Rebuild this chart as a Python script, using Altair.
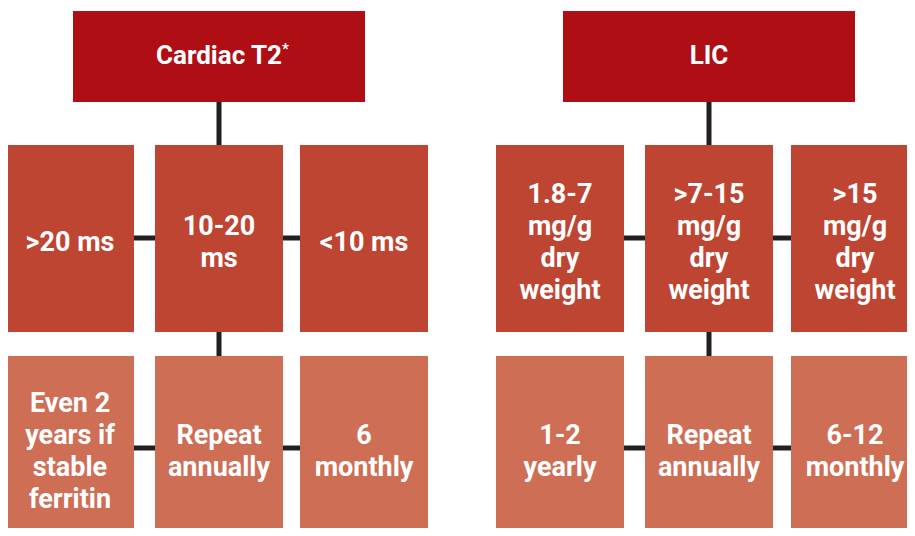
import altair as alt
import pandas as pd

# ---------------- data ----------------
groups = ["Cardiac T2", "LIC"]
group_marks = ["*", ""]
thresholds = [
    [">20 ms", "10-20\nms", "<10 ms"],
    ["1.8-7\nmg/g\ndry\nweight", ">7-15\nmg/g\ndry\nweight", ">15\nmg/g\ndry\nweight"],
]
intervals = [
    ["Even 2\nyears if\nstable\nferritin", "Repeat\nannually", "6\nmonthly"],
    ["1-2\nyearly", "Repeat\nannually", "6-12\nmonthly"],
]
tiers = ["head", "threshold", "interval"]
tier_colors = ["#B00E15", "#BE4531", "#CE6E55"]

# ---------------- layout (grid of the figure) ----------------
col_left = [[6, 155, 300], [496, 645, 791]]
box_w = 128
head_w = 292
row_span = {"head": (11, 102), "threshold": (145, 332), "interval": (356, 540)}
text_shift = {"head": -1, "threshold": 4, "interval": 4}
font_size = {"head": 26, "threshold": 27, "interval": 27}
link_y = {"threshold": 238, "interval": 448}
line_h = 32

boxes, lines, rules, marks = [], [], [], []


def add_box(x0, x1, tier, label):
    y0, y1 = row_span[tier]
    boxes.append(dict(x=x0, x2=x1, y=y0, y2=y1, tier=tier))
    parts = label.split("\n")
    n = len(parts)
    cy = (y0 + y1) / 2 + text_shift[tier]
    for i, p in enumerate(parts):
        lines.append(dict(cx=(x0 + x1) / 2, cy=cy + (i - (n - 1) / 2) * line_h,
                          label=p, size=font_size[tier]))
    return (x0 + x1) / 2, cy


for g, name in enumerate(groups):
    mid = col_left[g][1] + box_w / 2
    hx, hy = add_box(mid - head_w / 2, mid + head_w / 2, "head", name)
    if group_marks[g]:
        marks.append(dict(cx=hx, cy=hy, label=group_marks[g]))
    for tier, labels in (("threshold", thresholds[g]), ("interval", intervals[g])):
        for c, lab in enumerate(labels):
            xl = col_left[g][c]
            add_box(xl, xl + box_w, tier, lab)
        rules.append(dict(x=col_left[g][0] + box_w / 2, x2=col_left[g][2] + box_w / 2,
                          y=link_y[tier], y2=link_y[tier]))
    rules.append(dict(x=mid, x2=mid, y=row_span["head"][1], y2=row_span["interval"][0]))

boxes = pd.DataFrame(boxes)
lines = pd.DataFrame(lines)
rules = pd.DataFrame(rules)
marks = pd.DataFrame(marks)

xs = alt.Scale(domain=[8, 907], nice=False, zero=False)
ys = alt.Scale(domain=[8, 528], nice=False, zero=False, reverse=True)

rule_layer = alt.Chart(rules).mark_rule(color="#231F20", strokeWidth=5).encode(
    x=alt.X("x:Q", scale=xs, axis=None), x2="x2:Q",
    y=alt.Y("y:Q", scale=ys, axis=None), y2="y2:Q",
)

rect_layer = alt.Chart(boxes).mark_rect(clip=True).encode(
    x=alt.X("x:Q", scale=xs, axis=None), x2="x2:Q",
    y=alt.Y("y:Q", scale=ys, axis=None), y2="y2:Q",
    color=alt.Color("tier:N", scale=alt.Scale(domain=tiers, range=tier_colors), legend=None),
)

text_layer = alt.Chart(lines).mark_text(
    font="Roboto", fontWeight="bold", color="white",
    align="center", baseline="middle",
).encode(
    x=alt.X("cx:Q", scale=xs, axis=None),
    y=alt.Y("cy:Q", scale=ys, axis=None),
    size=alt.Size("size:Q", scale=None, legend=None),
    text="label:N",
)

mark_layer = alt.Chart(marks).mark_text(
    font="Roboto", fontWeight="bold", fontSize=15, color="white",
    align="left", baseline="middle", dx=63, dy=-7,
).encode(
    x=alt.X("cx:Q", scale=xs, axis=None),
    y=alt.Y("cy:Q", scale=ys, axis=None),
    text="label:N",
)

chart = alt.layer(rule_layer, rect_layer, text_layer, mark_layer).properties(
    width=899, height=520, autosize=alt.AutoSizeParams(type="none"), padding=0,
).configure_view(stroke=None)

chart.save("out.html", embed_options={"renderer": "svg", "actions": False})
